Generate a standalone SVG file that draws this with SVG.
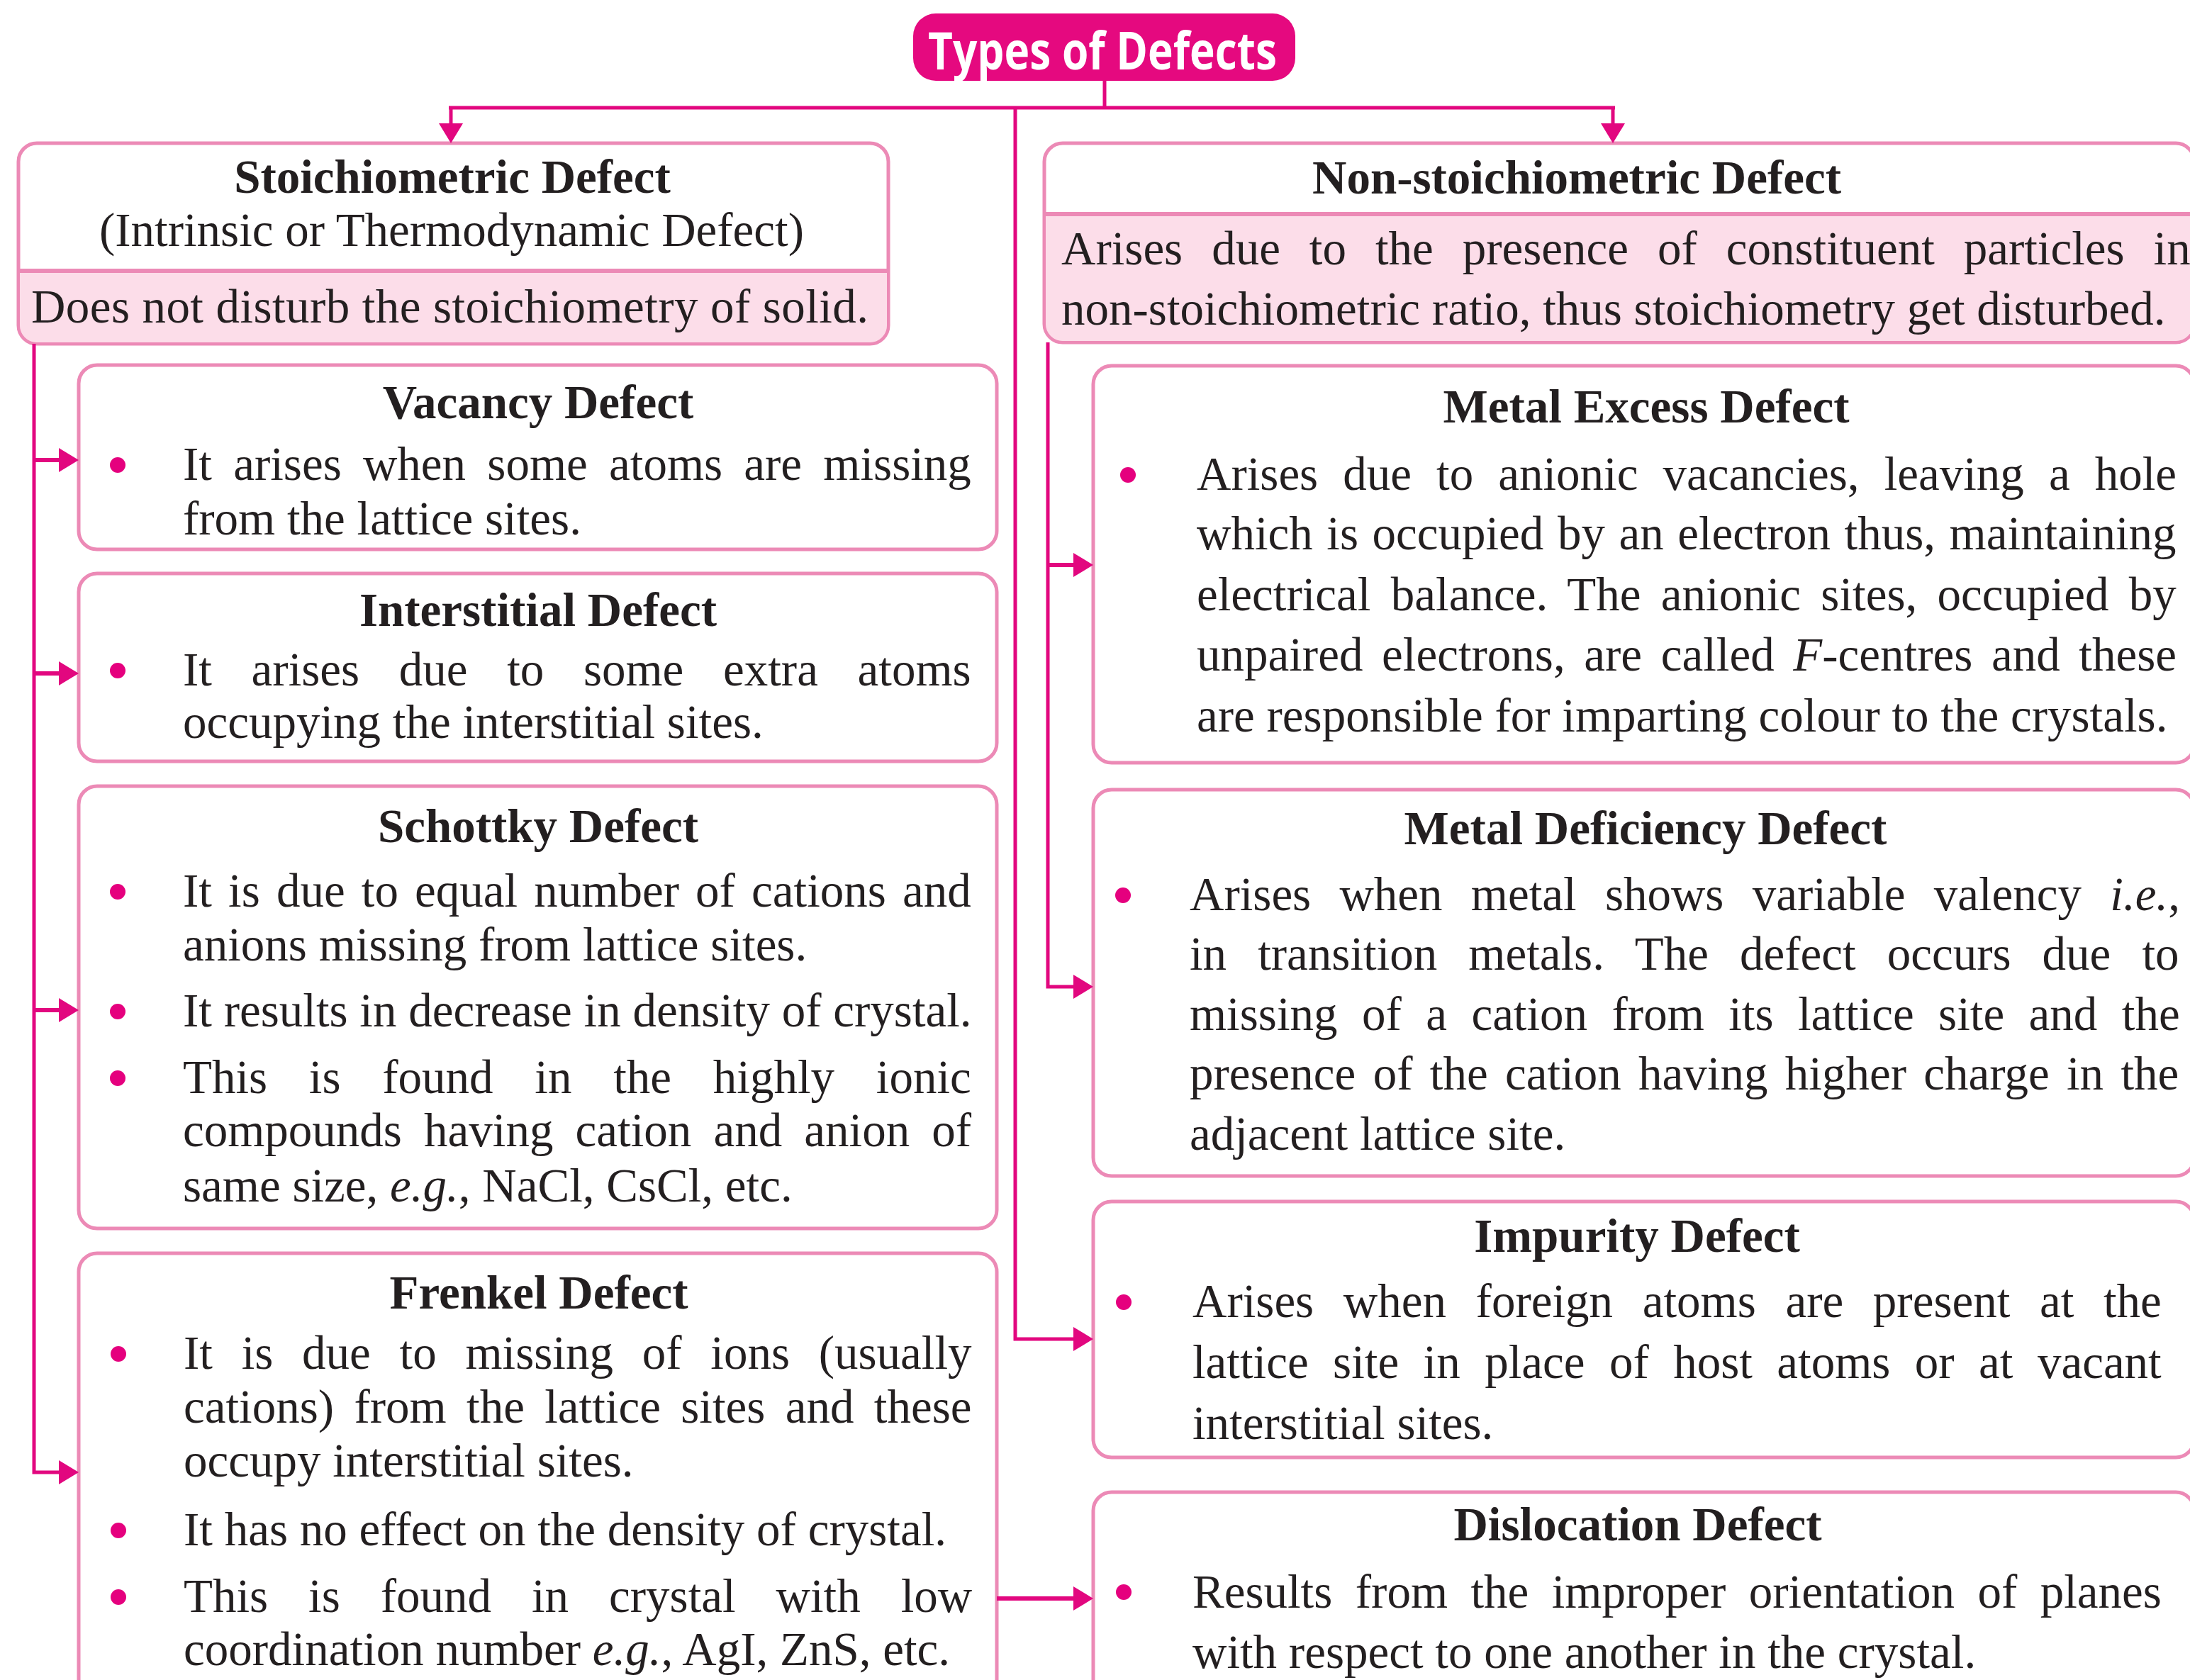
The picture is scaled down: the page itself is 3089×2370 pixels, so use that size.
<svg xmlns="http://www.w3.org/2000/svg" width="3089" height="2370" viewBox="0 0 3089 2370">
<defs>
<style>
.box{fill:#fff;stroke:#ec8ab6;stroke-width:5}
.band{fill:#fcdde9}
.div{stroke:#ec8ab6;stroke-width:6}
.t{font-family:"Liberation Serif","Times New Roman",serif;font-size:67px;fill:#231f20}
.h{font-weight:bold;text-anchor:middle}
.i{font-style:italic}
.bul{fill:#e5007e}
.con{fill:none;stroke:#e2077f;stroke-width:5}
.thick{stroke-width:6}
</style>
<marker id="ah" viewBox="0 0 28 34" refX="18" refY="17" markerWidth="28" markerHeight="34" markerUnits="userSpaceOnUse" orient="auto" overflow="visible">
<path d="M0,0 L28,17 L0,34 Z" fill="#e2077f"/>
</marker>
</defs>
<rect width="3089" height="2370" fill="#fff"/>

<g id="root">
<rect x="1288" y="19" width="539" height="95" rx="32" fill="#e5097f"/>
<text x="1309" y="98" font-family="'Open Sans','Noto Sans',sans-serif" font-weight="bold" font-size="74" fill="#fff" textLength="492" lengthAdjust="spacingAndGlyphs">Types of Defects</text>
</g>

<g id="stoichiometric">
<rect class="box" x="26" y="202" width="1227" height="283" rx="26"/>
<path class="band" d="M28,382 H1251 V459 a24,24 0 0 1 -24,24 H52 a24,24 0 0 1 -24,-24 Z"/>
<line class="div" x1="26" y1="382" x2="1253" y2="382"/>
<text class="t h" x="638" y="272">Stoichiometric Defect</text>
<text class="t" x="637" y="347" text-anchor="middle">(Intrinsic or Thermodynamic Defect)</text>
<text class="t" x="44" y="455" textLength="1181" lengthAdjust="spacing">Does not disturb the stoichiometry of solid.</text>
</g>

<g id="nonstoichiometric">
<rect class="box" x="1473" y="202" width="1622" height="281" rx="26"/>
<path class="band" d="M1475,302 H3093 V457 a24,24 0 0 1 -24,24 H1499 a24,24 0 0 1 -24,-24 Z"/>
<line class="div" x1="1473" y1="302" x2="3095" y2="302"/>
<text class="t h" x="2224" y="273">Non-stoichiometric Defect</text>
<text class="t" x="1497" y="373" word-spacing="24.2">Arises due to the presence of constituent particles in</text>
<text class="t" x="1497" y="458">non-stoichiometric ratio, thus stoichiometry get disturbed.</text>
</g>

<g id="vacancy">
<rect class="box" x="111" y="515" width="1295" height="260" rx="26"/>
<text class="t h" x="759" y="590">Vacancy Defect</text>
<circle class="bul" cx="166" cy="656" r="11"/>
<text class="t" x="258" y="677" word-spacing="13.5">It arises when some atoms are missing</text>
<text class="t" x="258" y="754">from the lattice sites.</text>
</g>

<g id="interstitial">
<rect class="box" x="111" y="809" width="1295" height="265" rx="26"/>
<text class="t h" x="759" y="883">Interstitial Defect</text>
<circle class="bul" cx="166" cy="946" r="11"/>
<text class="t" x="258" y="967" word-spacing="38.9">It arises due to some extra atoms</text>
<text class="t" x="258" y="1041">occupying the interstitial sites.</text>
</g>

<g id="schottky">
<rect class="box" x="111" y="1109" width="1295" height="624" rx="26"/>
<text class="t h" x="759" y="1188">Schottky Defect</text>
<circle class="bul" cx="166" cy="1258" r="11"/>
<text class="t" x="258" y="1279" word-spacing="6.4">It is due to equal number of cations and</text>
<text class="t" x="258" y="1355">anions missing from lattice sites.</text>
<circle class="bul" cx="166" cy="1427" r="11"/>
<text class="t" x="258" y="1448">It results in decrease in density of crystal.</text>
<circle class="bul" cx="166" cy="1521" r="11"/>
<text class="t" x="258" y="1542" word-spacing="42">This is found in the highly ionic</text>
<text class="t" x="258" y="1617" word-spacing="14.4">compounds having cation and anion of</text>
<text class="t" x="258" y="1695">same size, <tspan class="i">e.g.</tspan>, NaCl, CsCl, etc.</text>
</g>

<g id="frenkel">
<rect class="box" x="111" y="1768" width="1295" height="660" rx="26"/>
<text class="t h" x="760" y="1846">Frenkel Defect</text>
<circle class="bul" cx="167" cy="1910" r="11"/>
<text class="t" x="259" y="1931" word-spacing="24">It is due to missing of ions (usually</text>
<text class="t" x="259" y="2007" word-spacing="11.6">cations) from the lattice sites and these</text>
<text class="t" x="259" y="2083">occupy interstitial sites.</text>
<circle class="bul" cx="167" cy="2159" r="11"/>
<text class="t" x="259" y="2180">It has no effect on the density of crystal.</text>
<circle class="bul" cx="167" cy="2253" r="11"/>
<text class="t" x="259" y="2274" word-spacing="40.2">This is found in crystal with low</text>
<text class="t" x="259" y="2349">coordination number <tspan class="i">e.g.</tspan>, AgI, ZnS, etc.</text>
</g>

<g id="metal-excess">
<rect class="box" x="1542" y="516" width="1553" height="560" rx="26"/>
<text class="t h" x="2322" y="596">Metal Excess Defect</text>
<circle class="bul" cx="1591" cy="670" r="11"/>
<text class="t" x="1688" y="691" word-spacing="18.3">Arises due to anionic vacancies, leaving a hole</text>
<text class="t" x="1688" y="775" word-spacing="2.8">which is occupied by an electron thus, maintaining</text>
<text class="t" x="1688" y="861" word-spacing="11.6">electrical balance. The anionic sites, occupied by</text>
<text class="t" x="1688" y="946" word-spacing="9.9">unpaired electrons, are called <tspan class="i">F</tspan>-centres and these</text>
<text class="t" x="1688" y="1032">are responsible for imparting colour to the crystals.</text>
</g>

<g id="metal-deficiency">
<rect class="box" x="1542" y="1114" width="1553" height="545" rx="26"/>
<text class="t h" x="2321" y="1191">Metal Deficiency Defect</text>
<circle class="bul" cx="1584" cy="1263" r="11"/>
<text class="t" x="1678" y="1284" word-spacing="23.5">Arises when metal shows variable valency <tspan class="i">i.e.</tspan>,</text>
<text class="t" x="1678" y="1368" word-spacing="27.3">in transition metals. The defect occurs due to</text>
<text class="t" x="1678" y="1453" word-spacing="17.7">missing of a cation from its lattice site and the</text>
<text class="t" x="1678" y="1537" word-spacing="7.6">presence of the cation having higher charge in the</text>
<text class="t" x="1678" y="1622">adjacent lattice site.</text>
</g>

<g id="impurity">
<rect class="box" x="1542" y="1695" width="1553" height="361" rx="26"/>
<text class="t h" x="2309" y="1766">Impurity Defect</text>
<circle class="bul" cx="1585" cy="1837" r="11"/>
<text class="t" x="1682" y="1858" word-spacing="24.9">Arises when foreign atoms are present at the</text>
<text class="t" x="1682" y="1944" word-spacing="17.7">lattice site in place of host atoms or at vacant</text>
<text class="t" x="1682" y="2030">interstitial sites.</text>
</g>

<g id="dislocation">
<rect class="box" x="1542" y="2105" width="1553" height="330" rx="26"/>
<text class="t h" x="2310" y="2173">Dislocation Defect</text>
<circle class="bul" cx="1585" cy="2246" r="11"/>
<text class="t" x="1682" y="2268" word-spacing="15.7">Results from the improper orientation of planes</text>
<text class="t" x="1682" y="2353">with respect to one another in the crystal.</text>
</g>

<g id="connectors">
<path class="con" d="M1558,114 V152"/>
<path class="con" stroke="#cf1577" stroke-width="8" d="M633,152 H2278"/>
<path class="con" d="M636,152 V192" marker-end="url(#ah)"/>
<path class="con" d="M2275,152 V192" marker-end="url(#ah)"/>
<path class="con" d="M1432,152 V1889 H1532" marker-end="url(#ah)"/>
<path class="con" d="M48,485 V2077 H101" marker-end="url(#ah)"/>
<path class="con thick" d="M48,649 H101" marker-end="url(#ah)"/>
<path class="con thick" d="M48,950 H101" marker-end="url(#ah)"/>
<path class="con thick" d="M48,1425 H101" marker-end="url(#ah)"/>
<path class="con" d="M1478,483 V1392 H1532" marker-end="url(#ah)"/>
<path class="con thick" d="M1478,797 H1532" marker-end="url(#ah)"/>
<path class="con thick" d="M1406,2255 H1532" marker-end="url(#ah)"/>
</g>
</svg>
